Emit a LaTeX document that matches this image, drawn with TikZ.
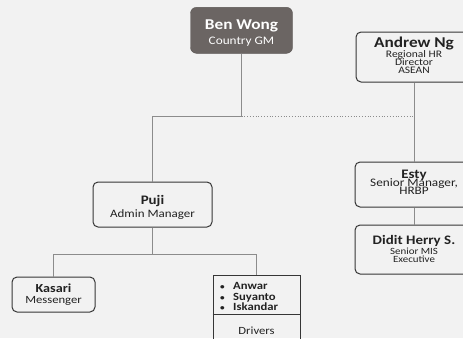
\documentclass[tikz,border=0pt]{standalone}
\usepackage{fontspec}
\setmainfont{Carlito}[FakeStretch=1.15]
\usetikzlibrary{calc}
\definecolor{bggray}{HTML}{F2F2F2}
\definecolor{gmfill}{HTML}{6B6563}
\definecolor{boxedge}{HTML}{363636}
\definecolor{linkgray}{HTML}{8C8C8C}
\definecolor{inkgray}{HTML}{222222}
\newcommand{\orgname}[2]{{\fontsize{#1}{#1}\selectfont\bfseries #2}}
\newcommand{\orgfont}[2]{\fontsize{#1}{#2}\selectfont\lineskiplimit=-30pt}
\newcommand{\driveritem}[1]{\makebox[13pt][l]{\fontsize{8}{8}\selectfont\textbullet}#1}

\begin{document}
\begin{tikzpicture}[x=1pt,y=-1pt,
    gmnode/.style={rectangle, rounded corners=6pt, fill=gmfill, draw=gmfill!85!black, text=white, align=center, inner sep=2pt},
    staffnode/.style={rectangle, rounded corners=5pt, draw=boxedge, line width=1pt, text=inkgray, align=center, inner sep=2pt},
    listnode/.style={rectangle, draw=boxedge, line width=1pt},
    textnode/.style={rectangle, text=inkgray, inner sep=0pt},
    link/.style={draw=linkgray, line width=0.9pt},
    dottedlink/.style={draw=linkgray, line width=0.8pt, dotted}
    ]
  \useasboundingbox (0,0) rectangle (463,338);
  \clip (0,0) rectangle (463,338);
  \fill[bggray] (0,0) rectangle (463,338);
  % nodes
  \node[gmnode, minimum width=102pt, minimum height=46pt, text height=28.8pt, text depth=0.8pt, font=\orgfont{11.5}{14.5}] (Ben Wong) at (241.5,30.3) {\orgname{15}{Ben Wong}\\Country GM};
  \node[staffnode, minimum width=116pt, minimum height=50pt, text height=36pt, text depth=4pt, font=\orgfont{10}{8}] (Andrew Ng) at (414,57) {\orgname{15}{Andrew Ng}\\[2pt]Regional HR\\Director\\ASEAN};
  \node[staffnode, minimum width=118pt, minimum height=45pt, text height=24pt, text depth=5pt, font=\orgfont{11.5}{7.5}] (Esty) at (414,184.5) {\orgname{13}{Esty}\\[0.5pt]Senior Manager,\\HRBP};
  \node[staffnode, minimum width=118pt, minimum height=49pt, text height=28pt, text depth=3pt, font=\orgfont{9.5}{8}] (Didit) at (414,249.5) {\orgname{13}{Didit Herry S.}\\[2pt]Senior MIS\\Executive};
  \node[staffnode, minimum width=119pt, minimum height=45pt, text height=25pt, text depth=0pt, font=\orgfont{11.3}{13}] (Puji) at (152.5,204.5) {\orgname{13}{Puji}\\Admin Manager};
  \node[staffnode, minimum width=83pt, minimum height=35pt, text height=20pt, text depth=3pt, font=\orgfont{11}{11}] (Kasari) at (53.5,294.5) {\orgname{12.3}{Kasari}\\Messenger};
  \node[listnode, minimum width=87pt, minimum height=70pt] (Drivers) at (256.5,310) {};
  \node[textnode, anchor=north west, align=left, text height=28.6pt, font=\orgfont{11}{10.3}\bfseries] (Driver list) at (220,281.5) {\driveritem{Anwar}\\\driveritem{Suyanto}\\\driveritem{Iskandar}};
  \node[textnode, anchor=base, font=\orgfont{11}{11}] (Driver label) at (256.5,334.5) {Drivers};
  \coordinate (Drivers split) at (256.5,314);
  \coordinate (Top bus) at ($(Ben Wong.south)+(0,63)$);
  \coordinate (Staff bus) at ($(Puji.south)+(0,27)$);
  % lines
  \draw[listnode] (Drivers.west |- Drivers split) -- (Drivers.east |- Drivers split);
  \draw[link] (Ben Wong.south) -- (Top bus) -| (Puji);
  \draw[dottedlink] (Top bus) -- (Top bus -| Andrew Ng.south);
  \draw[link] (Andrew Ng) -- (Esty);
  \draw[link] (Esty) -- (Didit);
  \draw[link] (Puji.south) -- (Staff bus);
  \draw[link] (Kasari) |- (Staff bus) -| (Drivers);
\end{tikzpicture}
\end{document}
